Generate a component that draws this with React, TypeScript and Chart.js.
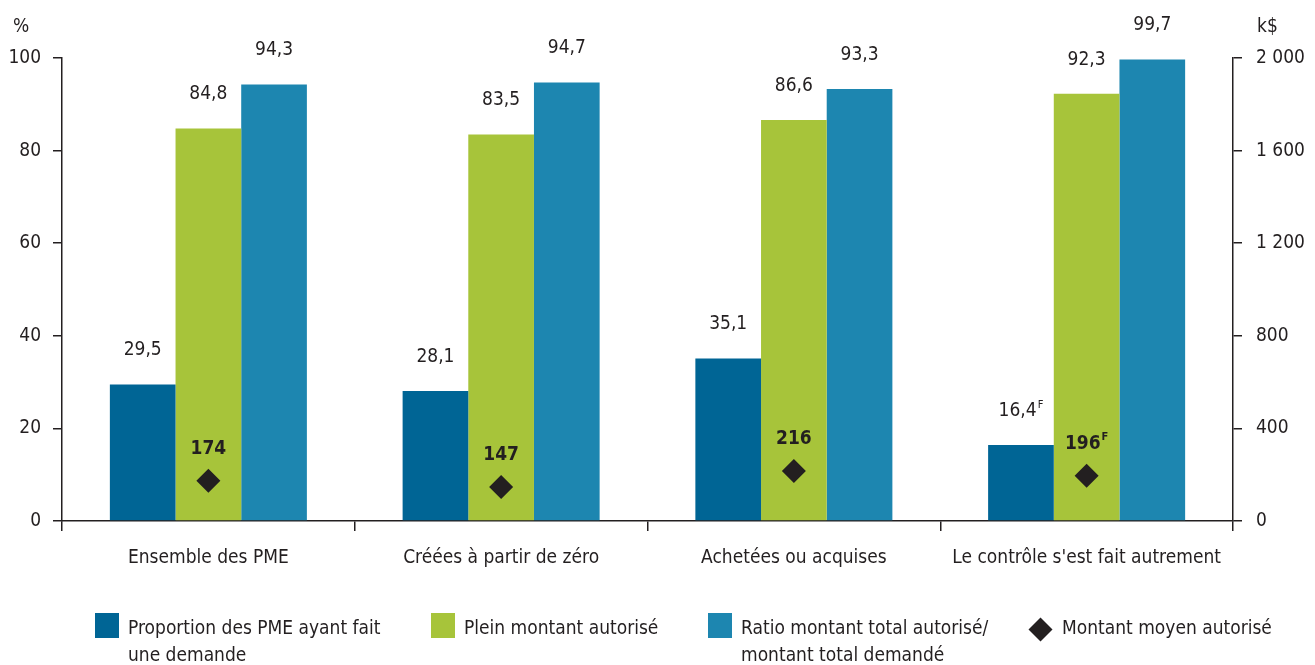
import React, { useEffect, useRef } from "react";
import { Chart, registerables } from "chart.js";

Chart.register(...registerables);

const categories = [
  "Ensemble des PME",
  "Créées à partir de zéro",
  "Achetées ou acquises",
  "Le contrôle s'est fait autrement",
];
const proportion = [29.5, 28.1, 35.1, 16.4];
const pleinMontant = [84.8, 83.5, 86.6, 92.3];
const ratioMontant = [94.3, 94.7, 93.3, 99.7];
const montantMoyen = [174, 147, 216, 196];
const proportionFlags = ["", "", "", "F"];
const pleinFlags = ["", "", "", ""];
const ratioFlags = ["", "", "", ""];
const montantFlags = ["", "", "", "F"];

const seriesNames = [
  "Proportion des PME ayant fait une demande",
  "Plein montant autorisé",
  "Ratio montant total autorisé/ montant total demandé",
  "Montant moyen autorisé",
];

const COLORS = ["#006595", "#a7c43a", "#1d86b0", "#231f20"];
const TEXT = "#231f20";
const FONT = '"Liberation Sans Narrow", "DejaVu Sans Condensed", "Arial Narrow", sans-serif';
const FS = 19;

const fmtDec = (v: number) => v.toFixed(1).replace(".", ",");
const fmtThousands = (v: number) => String(Math.round(v)).replace(/\B(?=(\d{3})+(?!\d))/g, " ");

function drawWithSup(
  ctx: CanvasRenderingContext2D,
  text: string,
  sup: string,
  x: number,
  y: number,
  mainFont: string,
  supFont: string
) {
  ctx.font = mainFont;
  const w = ctx.measureText(text).width;
  ctx.font = supFont;
  const ws = sup ? ctx.measureText(sup).width + 1 : 0;
  const start = x - (w + ws) / 2;
  ctx.textAlign = "left";
  ctx.textBaseline = "middle";
  ctx.font = mainFont;
  ctx.fillText(text, start, y);
  if (sup) {
    ctx.font = supFont;
    ctx.fillText(sup, start + w + 1, y - 6);
  }
}

const labelPlugin = {
  id: "valueLabels",
  afterDatasetsDraw(chart: any) {
    const ctx: CanvasRenderingContext2D = chart.ctx;
    ctx.save();
    ctx.fillStyle = TEXT;
    const flags = [proportionFlags, pleinFlags, ratioFlags];
    for (let d = 0; d < 3; d++) {
      const meta = chart.getDatasetMeta(d);
      meta.data.forEach((el: any, i: number) => {
        const v = chart.data.datasets[d].data[i] as number;
        drawWithSup(ctx, fmtDec(v), flags[d][i], el.x, el.y - 34, `${FS}px ${FONT}`, `11px ${FONT}`);
      });
    }
    const lm = chart.getDatasetMeta(3);
    lm.data.forEach((el: any, i: number) => {
      const v = chart.data.datasets[3].data[i] as number;
      drawWithSup(ctx, String(v), montantFlags[i], el.x, el.y - 32, `bold ${FS}px ${FONT}`, `bold 11px ${FONT}`);
    });
    const area = chart.chartArea;
    ctx.font = `${FS}px ${FONT}`;
    ctx.textAlign = "left";
    ctx.textBaseline = "middle";
    ctx.fillText("%", area.left - 49, area.top - 31);
    ctx.fillText("k$", area.right + 24, area.top - 31);
    ctx.restore();
  },
};

export default function App() {
  const ref = useRef<HTMLCanvasElement>(null);
  useEffect(() => {
    document.body.style.margin = "0";
    const canvas = ref.current;
    if (!canvas) return;
    const chart = new Chart(canvas, {
      type: "bar",
      data: {
        labels: categories,
        datasets: [
          { type: "bar", label: seriesNames[0], data: proportion, backgroundColor: COLORS[0], yAxisID: "y", order: 1 },
          { type: "bar", label: seriesNames[1], data: pleinMontant, backgroundColor: COLORS[1], yAxisID: "y", order: 1 },
          { type: "bar", label: seriesNames[2], data: ratioMontant, backgroundColor: COLORS[2], yAxisID: "y", order: 1 },
          {
            type: "line",
            label: seriesNames[3],
            data: montantMoyen,
            yAxisID: "y1",
            showLine: false,
            pointStyle: "rectRot",
            pointRadius: 12,
            pointHoverRadius: 12,
            backgroundColor: COLORS[3],
            borderColor: COLORS[3],
            borderWidth: 0,
            order: 0,
          } as any,
        ],
      },
      options: {
        responsive: false,
        maintainAspectRatio: false,
        animation: false,
        layout: { padding: { top: 58, left: 0, right: 0, bottom: 0 } },
        datasets: { bar: { categoryPercentage: 0.673, barPercentage: 1.0 } } as any,
        plugins: { legend: { display: false }, tooltip: { enabled: false } },
        scales: {
          x: {
            grid: { offset: true, drawOnChartArea: false, drawTicks: true, tickLength: 10, color: TEXT, lineWidth: 1.5 },
            border: { color: TEXT, width: 1.5 },
            ticks: { color: TEXT, font: { family: FONT, size: FS }, padding: 16, maxRotation: 0, autoSkip: false },
            afterFit: (s: any) => { s.height = 144; },
          },
          y: {
            position: "left",
            min: 0,
            max: 100,
            ticks: { stepSize: 20, color: TEXT, font: { family: FONT, size: FS }, padding: 12 },
            grid: { drawOnChartArea: false, drawTicks: true, tickLength: 9, color: TEXT, lineWidth: 1.5 },
            border: { color: TEXT, width: 1.5 },
            afterFit: (s: any) => { s.width = 62; },
          },
          y1: {
            position: "right",
            min: 0,
            max: 2000,
            ticks: {
              stepSize: 400,
              color: TEXT,
              font: { family: FONT, size: FS },
              padding: 14,
              callback: (v: any) => fmtThousands(Number(v)),
            },
            grid: { drawOnChartArea: false, drawTicks: true, tickLength: 9, color: TEXT, lineWidth: 1.5 },
            border: { color: TEXT, width: 1.5 },
            afterFit: (s: any) => { s.width = 82; },
          },
        },
      },
      plugins: [labelPlugin],
    });
    return () => chart.destroy();
  }, []);

  const textStyle: React.CSSProperties = {
    position: "absolute",
    fontFamily: FONT,
    fontSize: FS,
    lineHeight: "27px",
    color: TEXT,
    whiteSpace: "nowrap",
  };
  const sq = (left: number, color: string): React.CSSProperties => ({
    position: "absolute",
    left,
    top: 613,
    width: 24,
    height: 25,
    background: color,
  });

  return (
    <div style={{ position: "relative", width: 1315, height: 665, background: "#fff" }}>
      <canvas ref={ref} width={1315} height={665} style={{ display: "block" }} />
      <div style={sq(95, COLORS[0])} />
      <div style={{ ...textStyle, left: 128, top: 614 }}>
        Proportion des PME ayant fait
        <br />
        une demande
      </div>
      <div style={sq(431, COLORS[1])} />
      <div style={{ ...textStyle, left: 464, top: 614 }}>{seriesNames[1]}</div>
      <div style={sq(708, COLORS[2])} />
      <div style={{ ...textStyle, left: 741, top: 614 }}>
        Ratio montant total autorisé/
        <br />
        montant total demandé
      </div>
      <div
        style={{
          position: "absolute",
          left: 1040 - 8.5,
          top: 629 - 8.5,
          width: 17,
          height: 17,
          background: COLORS[3],
          transform: "rotate(45deg)",
        }}
      />
      <div style={{ ...textStyle, left: 1062, top: 614 }}>{seriesNames[3]}</div>
    </div>
  );
}
